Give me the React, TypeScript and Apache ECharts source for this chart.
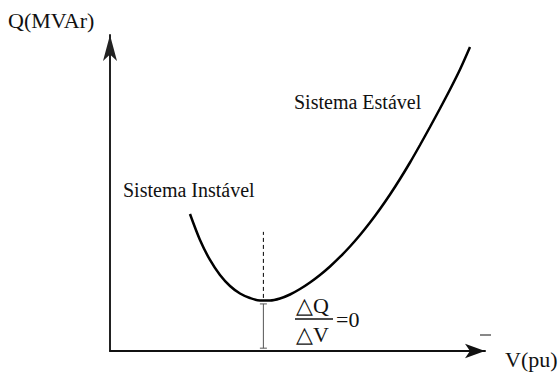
import React, { useEffect, useRef } from "react";
import * as echarts from "echarts";

// Curve Q–V (abstract units: V and Q on 0..100 axes)
const curveV = [
  21.33, 24.0, 26.67, 29.33, 32.0, 34.67, 37.33, 40.0, 42.67, 45.33,
  48.0, 50.67, 53.33, 56.0, 58.67, 61.33, 64.0, 66.67, 69.33, 72.0,
  74.67, 77.33, 80.0, 82.67, 85.33, 88.0, 90.67, 93.33, 96.0,
];
const curveQ = [
  43.35, 35.13, 28.8, 24.05, 20.57, 18.2, 16.77, 15.98, 15.98, 16.61,
  17.88, 19.62, 21.68, 24.05, 26.74, 29.75, 33.07, 36.71, 40.66, 44.94,
  49.53, 54.43, 59.65, 65.19, 70.89, 76.74, 82.75, 89.08, 96.2,
];

// Vertical marker at the minimum
const minV = 40.9;
const dashedQ = [16.8, 37.7];
const barQ = [0.9, 14.9];

const axisNames = ["V(pu)", "Q(MVAr)"];
const regionLabels = ["Sistema Estável", "Sistema Instável"];
const formula = ["△Q", "△V", "=0"];

const FONT = "'Liberation Serif', 'Times New Roman', serif";

export default function App() {
  const ref = useRef<HTMLDivElement>(null);
  useEffect(() => {
    if (!ref.current) return;
    const chart = echarts.init(ref.current, undefined, { renderer: "svg" });
    const textStyle = (text: string, x: number, y: number, size = 20) => ({
      type: "text",
      x,
      y,
      style: {
        text,
        fontFamily: FONT,
        fontSize: size,
        fill: "#111",
        verticalAlign: "middle",
        align: "left",
      },
    });
    chart.setOption({
      animation: false,
      backgroundColor: "#fff",
      grid: { left: 110, right: 75, top: 35, bottom: 23 },
      xAxis: {
        type: "value",
        min: 0,
        max: 100,
        axisLine: {
          show: true,
          symbol: ["none", "arrow"],
          symbolSize: [11, 20],
          lineStyle: { color: "#111", width: 2 },
        },
        axisTick: { show: false },
        axisLabel: { show: false },
        splitLine: { show: false },
      },
      yAxis: {
        type: "value",
        min: 0,
        max: 100,
        axisLine: {
          show: true,
          symbol: ["none", "arrow"],
          symbolSize: [10.5, 26],
          lineStyle: { color: "#222", width: 2 },
        },
        axisTick: { show: false },
        axisLabel: { show: false },
        splitLine: { show: false },
      },
      series: [
        {
          type: "line",
          data: curveV.map((v, i) => [v, curveQ[i]]),
          smooth: 0.3,
          symbol: "none",
          lineStyle: { color: "#000", width: 2.5 },
        },
        {
          type: "line",
          data: dashedQ.map((q) => [minV, q]),
          symbol: "none",
          lineStyle: { color: "#000", width: 1, type: [4, 3] },
        },
        {
          type: "line",
          data: barQ.map((q) => [minV, q]),
          symbol: "rect",
          symbolSize: [7, 1],
          itemStyle: { color: "#555" },
          lineStyle: { color: "#555", width: 1 },
        },
      ],
      graphic: [
        textStyle(axisNames[1], 8, 20, 22),
        textStyle(axisNames[0], 505, 359, 22),
        textStyle(regionLabels[0], 294, 102),
        textStyle(regionLabels[1], 123, 190),
        textStyle(formula[0], 296, 305, 22),
        textStyle(formula[1], 296, 334, 22),
        textStyle(formula[2], 336, 319, 22),
        {
          type: "line",
          shape: { x1: 295, y1: 319, x2: 333, y2: 319 },
          style: { stroke: "#111", lineWidth: 1.5 },
        },
        {
          type: "line",
          shape: { x1: 480, y1: 335, x2: 491, y2: 335 },
          style: { stroke: "#111", lineWidth: 1 },
        },
      ],
    });
    return () => chart.dispose();
  }, []);
  return (
    <div
      ref={ref}
      style={{ position: "fixed", left: 0, top: 0, width: 560, height: 374 }}
    />
  );
}
